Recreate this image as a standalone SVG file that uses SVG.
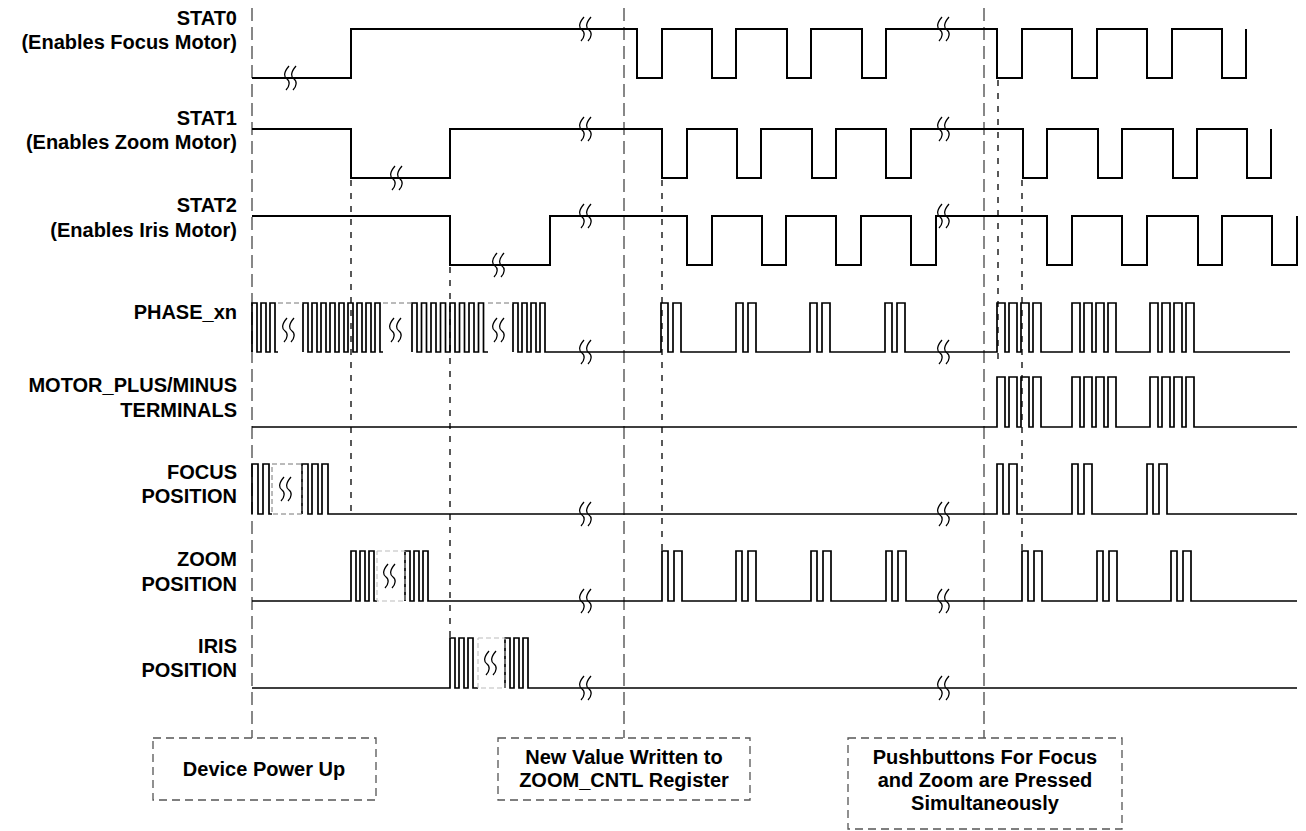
<svg xmlns="http://www.w3.org/2000/svg" xmlns:xlink="http://www.w3.org/1999/xlink" width="1306" height="831" viewBox="0 0 1306 831">
<style>
.lbl{font-family:"Liberation Sans",Arial,sans-serif;font-weight:bold;font-size:20px;fill:#000;text-anchor:end}
.box{font-family:"Liberation Sans",Arial,sans-serif;font-weight:bold;font-size:20px;fill:#000;text-anchor:middle}
.sig{fill:none;stroke:#000;stroke-width:2;stroke-linejoin:miter}
.sig2{fill:none;stroke:#000;stroke-width:1.7}
.brk{fill:none;stroke:#000;stroke-width:1.3}
.long{stroke:#555;stroke-width:1.4;stroke-dasharray:13 6;fill:none}
.short{stroke:#000;stroke-width:1.3;stroke-dasharray:6 7;fill:none}
.gap{stroke:#777;stroke-width:1;stroke-dasharray:5 3;fill:none}
.gapl{stroke:#bbb;stroke-width:1;stroke-dasharray:5 3;fill:none}
.bx{fill:none;stroke:#555;stroke-width:1.3;stroke-dasharray:8 5}
</style>
<defs>
<g id="brk">
<path class="brk" d="M1,-12 C-5,-5 -4,-1 -1,1 C2,3 2,8 -2,12"/>
<path class="brk" d="M8,-12 C2,-5 3,-1 6,1 C9,3 9,8 5,12"/>
</g>
</defs>
<g id="labels">
<text class="lbl" x="237" y="25">STAT0</text>
<text class="lbl" x="237" y="49">(Enables Focus Motor)</text>
<text class="lbl" x="237" y="125">STAT1</text>
<text class="lbl" x="237" y="149">(Enables Zoom Motor)</text>
<text class="lbl" x="237" y="212">STAT2</text>
<text class="lbl" x="237" y="237">(Enables Iris Motor)</text>
<text class="lbl" x="237" y="319">PHASE_xn</text>
<text class="lbl" x="237" y="392">MOTOR_PLUS/MINUS</text>
<text class="lbl" x="237" y="417">TERMINALS</text>
<text class="lbl" x="237" y="479">FOCUS</text>
<text class="lbl" x="237" y="503">POSITION</text>
<text class="lbl" x="237" y="566">ZOOM</text>
<text class="lbl" x="237" y="591">POSITION</text>
<text class="lbl" x="237" y="653">IRIS</text>
<text class="lbl" x="237" y="677">POSITION</text>
</g>
<g id="connectors">
<line class="long" x1="252" y1="8" x2="252" y2="738"/>
<line class="long" x1="624" y1="8" x2="624" y2="738"/>
<line class="long" x1="984" y1="8" x2="984" y2="738"/>
<line class="short" x1="351" y1="180" x2="351" y2="514"/>
<line class="short" x1="450" y1="267" x2="450" y2="637"/>
<line class="short" x1="662" y1="180" x2="662" y2="550"/>
<line class="short" x1="998" y1="80" x2="998" y2="362"/>
<line class="short" x1="1022" y1="180" x2="1022" y2="550"/>
</g>
<g id="stat0">
<path class="sig" d="M252,78 H351 V29 H637 V78 H662 V29 H712 V78 H736 V29 H787 V78 H811 V29 H862 V78 H886 V29 H997 V78 H1022 V29 H1072 V78 H1097 V29 H1147 V78 H1172 V29 H1222 V78 H1246 V29"/>
<use xlink:href="#brk" x="288" y="78"/><use xlink:href="#brk" x="583" y="29"/><use xlink:href="#brk" x="941" y="29"/>
</g>
<g id="stat1">
<path class="sig" d="M252,129 H351 V178 H450 V129 H662 V178 H687 V129 H737 V178 H761 V129 H812 V178 H836 V129 H886 V178 H911 V129 H1023 V178 H1047 V129 H1098 V178 H1122 V129 H1173 V178 H1197 V129 H1247 V178 H1271 V129"/>
<use xlink:href="#brk" x="394" y="178"/><use xlink:href="#brk" x="583" y="129"/><use xlink:href="#brk" x="941" y="129"/>
</g>
<g id="stat2">
<path class="sig" d="M252,216 H450 V265 H550 V216 H687 V265 H712 V216 H762 V265 H786 V216 H836 V265 H861 V216 H911 V265 H936 V216 H1047 V265 H1072 V216 H1122 V265 H1147 V216 H1198 V265 H1222 V216 H1272 V265 H1297 V216"/>
<use xlink:href="#brk" x="496" y="265"/><use xlink:href="#brk" x="583" y="216"/><use xlink:href="#brk" x="941" y="216"/>
</g>
<g id="phase_xn">
<path class="sig2" d="M252,352 V303 H257 V352 H261 V303 H266 V352 H270 V303 H275 V352 H278"/>
<path class="sig2" d="M303,352 V303 H308 V352 H312 V303 H317 V352 H321 V303 H326 V352 H330 V303 H335 V352 H339 V303 H344 V352 H348 V303 H353 V352 H357 V303 H362 V352 H366 V303 H371 V352 H375 V303 H380 V352 H383"/>
<path class="sig2" d="M412,352 V303 H417 V352 H421.5 V303 H426.5 V352 H431 V303 H436 V352 H440.5 V303 H445.5 V352 H450 V303 H455 V352 H459.5 V303 H464.5 V352 H469 V303 H474 V352 H478.5 V303 H483.5 V352 H488"/>
<path class="sig2" d="M513,352 V303 H518 V352 H522 V303 H527 V352 H531 V303 H536 V352 H540 V303 H545 V352 H661 V303 H668 V352 H673 V303 H681 V352 H736 V303 H743 V352 H748 V303 H756 V352 H810 V303 H817 V352 H822 V303 H830 V352 H885 V303 H892 V352 H897 V303 H905 V352 H997 V303 H1005 V352 H1009 V303 H1017 V352 H1021 V303 H1029 V352 H1033 V303 H1041 V352 H1072 V303 H1080 V352 H1084 V303 H1092 V352 H1096 V303 H1104 V352 H1108 V303 H1116 V352 H1150 V303 H1158 V352 H1162 V303 H1170 V352 H1174 V303 H1182 V352 H1186 V303 H1194 V352 H1290"/>
<path class="gap" d="M278,303 H303 M383,303 H412 M488,303 H513"/>
<use xlink:href="#brk" x="286" y="330"/><use xlink:href="#brk" x="393" y="330"/><use xlink:href="#brk" x="496" y="330"/>
<use xlink:href="#brk" x="583" y="352"/><use xlink:href="#brk" x="941" y="352"/>
</g>
<g id="motor">
<path class="sig2" d="M252,427 H997 V377 H1005 V427 H1009 V377 H1017 V427 H1021 V377 H1029 V427 H1033 V377 H1041 V427 H1072 V377 H1080 V427 H1084 V377 H1092 V427 H1096 V377 H1104 V427 H1108 V377 H1116 V427 H1150 V377 H1158 V427 H1162 V377 H1170 V427 H1174 V377 H1182 V427 H1186 V377 H1194 V427 H1297"/>
</g>
<g id="focus">
<path class="sig2" d="M252,514 V464 H258 V514 H263 V464 H269 V514 H272"/>
<path class="sig2" d="M302,514 V464 H308 V514 H312 V464 H318 V514 H322 V464 H328 V514 H587 H997 V464 H1003 V514 H1009 V464 H1017 V514 H1072 V464 H1078 V514 H1084 V464 H1092 V514 H1147 V464 H1153 V514 H1159 V464 H1167 V514 H1297"/>
<rect class="gap" x="272" y="464" width="30" height="50"/>
<use xlink:href="#brk" x="283" y="489"/>
<use xlink:href="#brk" x="583" y="514"/><use xlink:href="#brk" x="941" y="514"/>
</g>
<g id="zoom">
<path class="sig2" d="M252,601 H351 V551 H356 V601 H360 V551 H365 V601 H369 V551 H374 V601 H377"/>
<path class="sig2" d="M405,601 V551 H410 V601 H414 V551 H419 V601 H423 V551 H428 V601 H662 V551 H668 V601 H674 V551 H682 V601 H736 V551 H742 V601 H748 V551 H756 V601 H811 V551 H817 V601 H823 V551 H831 V601 H886 V551 H892 V601 H898 V551 H906 V601 H1022 V551 H1028 V601 H1034 V551 H1042 V601 H1097 V551 H1103 V601 H1109 V551 H1117 V601 H1171 V551 H1177 V601 H1183 V551 H1191 V601 H1297"/>
<rect class="gapl" x="377" y="551" width="28" height="50"/>
<use xlink:href="#brk" x="387" y="576"/>
<use xlink:href="#brk" x="583" y="601"/><use xlink:href="#brk" x="941" y="601"/>
</g>
<g id="iris">
<path class="sig2" d="M252,688 H450 V638 H455 V688 H459 V638 H464 V688 H468 V638 H473 V688 H478"/>
<path class="sig2" d="M505,688 V638 H510 V688 H514 V638 H519 V688 H523 V638 H528 V688 H1297"/>
<rect class="gapl" x="478" y="638" width="27" height="50"/>
<use xlink:href="#brk" x="488" y="663"/>
<use xlink:href="#brk" x="583" y="688"/><use xlink:href="#brk" x="941" y="688"/>
</g>
<g id="box_powerup">
<rect class="bx" x="153" y="738" width="223" height="62"/>
<text class="box" x="264" y="776">Device Power Up</text>
</g>
<g id="box_zoomcntl">
<rect class="bx" x="498" y="738" width="252" height="62"/>
<text class="box" x="624" y="764">New Value Written to</text>
<text class="box" x="624" y="787">ZOOM_CNTL Register</text>
</g>
<g id="box_pushbuttons">
<rect class="bx" x="848" y="738" width="274" height="91"/>
<text class="box" x="985" y="764">Pushbuttons For Focus</text>
<text class="box" x="985" y="787">and Zoom are Pressed</text>
<text class="box" x="985" y="810">Simultaneously</text>
</g>
</svg>
